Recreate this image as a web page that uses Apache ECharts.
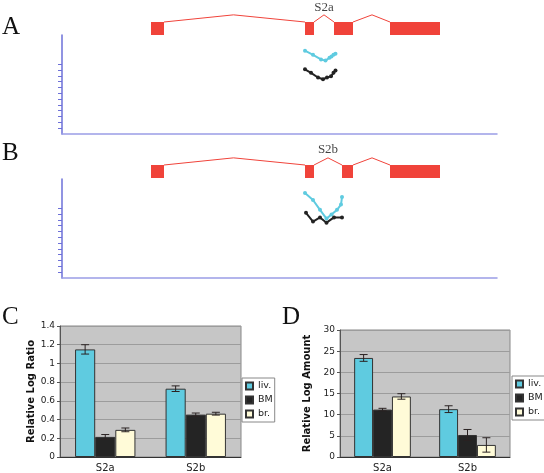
<!DOCTYPE html>
<html><head><meta charset="utf-8">
<script src="https://cdn.jsdelivr.net/npm/echarts@6/dist/echarts.min.js"></script>
<style>html,body{margin:0;padding:0;background:#fff}#c{width:544px;height:473px}</style>
</head><body><div id="c"></div>
<script>
// ---- Panels A / B : gene structure (locus coordinate, arbitrary units) ----
const exonsA = [[89,102],[243,252],[272,291],[328,378]];
const peaksA = [171.5, 262, 310];
const exonsB = [[89,102],[243,252],[280,291],[328,378]];
const peaksB = [171.5, 266, 310];
const exonLabelA = 'S2a';
const exonLabelB = 'S2b';
const topTicks = [1,2,3,4,5,6,7,8,9,10,11,12];

// ---- Panels A / B : expression profiles ----
const cyanAx  = [243, 251, 259, 263.5, 267.5, 269.5, 271.5, 273.5];
const cyanAy  = [14.3, 13.6, 12.8, 12.6, 13.1, 13.3, 13.6, 13.8];
const blackAx = [243, 249, 256, 261, 265, 269, 271.5, 273.5];
const blackAy = [11.1, 10.5, 9.7, 9.4, 9.7, 9.9, 10.5, 10.9];
const cyanBx  = [243, 251, 258, 264.5, 269.5, 275, 279, 280];
const cyanBy  = [14.6, 13.4, 11.7, 10.2, 10.9, 11.7, 12.6, 13.9];
const blackBx = [244, 251, 258, 264.5, 272, 280];
const blackBy = [11.2, 9.7, 10.4, 9.5, 10.4, 10.4];

// ---- Panels C / D ----
const categories = ['S2a', 'S2b'];
const tissues = ['liv.', 'BM', 'br.'];
const ratioVals  = [[1.15, 0.73], [0.215, 0.453], [0.29, 0.463]];
const ratioErr   = [[0.05, 0.03], [0.025, 0.017], [0.02, 0.015]];
const amountVals = [[23.4, 11.3], [11.2, 5.2], [14.3, 2.85]];
const amountErr  = [[0.8, 0.8], [0.3, 1.3], [0.65, 1.7]];
const ratioTicks = {min: 0, max: 1.4, interval: 0.2};
const amountTicks = {min: 0, max: 30, interval: 5};

const RED = '#f0433a';
const CYAN = '#5fcbe0';
const BLACK = '#232323';
const tissueColors = ['#5fcbe0', '#242424', '#fffbd8'];
const AXBLUE = '#6d70d8';

const chart = echarts.init(document.getElementById('c'), null, {renderer: 'canvas'});

const grids = [
  {left: 62, width: 435, top: 2.5, height: 32.5},   // 0 gene A
  {left: 62, width: 435, top: 35, height: 99},      // 1 profile A
  {left: 62, width: 435, top: 145.5, height: 32.5}, // 2 gene B
  {left: 62, width: 435, top: 179, height: 99},     // 3 profile B
  {left: 60, right: 303, top: 326, bottom: 16, show: true, backgroundColor: '#c6c6c6', borderColor: '#888', borderWidth: 1}, // 4 C
  {left: 340, right: 34, top: 330, bottom: 16, show: true, backgroundColor: '#c6c6c6', borderColor: '#888', borderWidth: 1}  // 5 D
];

const hidden = {show: false};
const xAxes = [
  {gridIndex: 0, type: 'value', min: 0, max: 435, show: false},
  {gridIndex: 1, type: 'value', min: 0, max: 435, axisLine: {show: true, lineStyle: {color: '#9a9de6', width: 1.5}}, axisTick: hidden, axisLabel: hidden, splitLine: hidden},
  {gridIndex: 2, type: 'value', min: 0, max: 435, show: false},
  {gridIndex: 3, type: 'value', min: 0, max: 435, axisLine: {show: true, lineStyle: {color: '#9a9de6', width: 1.5}}, axisTick: hidden, axisLabel: hidden, splitLine: hidden},
  {gridIndex: 4, type: 'category', data: categories, axisLine: {lineStyle: {color: '#333'}}, axisTick: {length: 3, lineStyle: {color: '#333'}}, axisLabel: {color: '#222', fontSize: 10, fontFamily: 'DejaVu Sans', margin: 6}},
  {gridIndex: 5, type: 'category', data: categories, axisLine: {lineStyle: {color: '#333'}}, axisTick: {length: 3, lineStyle: {color: '#333'}}, axisLabel: {color: '#222', fontSize: 10, fontFamily: 'DejaVu Sans', margin: 6}}
];
const topY = (gi) => ({gridIndex: gi, type: 'value', min: 0, max: 17,
  axisLine: {show: true, lineStyle: {color: AXBLUE, width: 1.5}},
  axisTick: {show: true, length: 4, inside: false, customValues: topTicks, lineStyle: {color: AXBLUE}},
  axisLabel: hidden, splitLine: hidden});
const barY = (gi, t, name, gap) => ({gridIndex: gi, type: 'value', min: t.min, max: t.max, interval: t.interval,
  name: name, nameLocation: 'middle', nameGap: gap, nameRotate: 90,
  nameTextStyle: {fontFamily: 'DejaVu Sans', fontWeight: 'bold', fontSize: 10, color: '#111'},
  axisLine: {show: true, lineStyle: {color: '#555'}},
  axisTick: {show: true, length: 3, lineStyle: {color: '#555'}},
  axisLabel: {color: '#222', fontSize: 9, fontFamily: 'DejaVu Sans', margin: 5},
  splitLine: {show: true, lineStyle: {color: '#9c9c9c', width: 1}}});
const yAxes = [
  {gridIndex: 0, type: 'value', min: 0, max: 2.5, show: false},
  topY(1),
  {gridIndex: 2, type: 'value', min: 0, max: 2.5, show: false},
  topY(3),
  barY(4, ratioTicks, 'Relative Log Ratio', 23),
  barY(5, amountTicks, 'Relative Log Amount', 28)
];

function exonSeries(exons, ai) {
  return {type: 'custom', xAxisIndex: ai, yAxisIndex: ai, silent: true,
    data: exons, encode: {x: [0, 1]},
    renderItem: (p, api) => {
      const a = api.coord([api.value(0), 1]);
      const b = api.coord([api.value(1), 0]);
      return {type: 'rect', shape: {x: a[0], y: a[1], width: b[0] - a[0], height: b[1] - a[1]}, style: {fill: RED}};
    }};
}
function intronSeries(exons, peaks, ai) {
  const out = [];
  for (let i = 0; i < peaks.length; i++) {
    out.push({type: 'line', xAxisIndex: ai, yAxisIndex: ai, silent: true, symbol: 'none',
      lineStyle: {color: RED, width: 1},
      data: [[exons[i][1], 1], [peaks[i], 1.55], [exons[i + 1][0], 1]]});
  }
  return out;
}
function labelSeries(x, y, text, ai) {
  return {type: 'scatter', xAxisIndex: ai, yAxisIndex: ai, silent: true, symbolSize: 1,
    itemStyle: {color: 'rgba(0,0,0,0)'},
    data: [{name: text, value: [x, y]}],
    label: {show: true, position: 'inside', formatter: '{b}', color: '#111', fontSize: 13, fontFamily: 'Liberation Serif'}};
}
function profile(xs, ys, color, ai) {
  return {type: 'line', xAxisIndex: ai, yAxisIndex: ai, silent: true,
    data: xs.map((x, i) => [x, ys[i]]),
    symbol: 'circle', symbolSize: 4, showSymbol: true,
    lineStyle: {color: color, width: 2}, itemStyle: {color: color}};
}

function barSeries(vals, ai) {
  return tissues.map((t, i) => ({type: 'bar', name: t, xAxisIndex: ai, yAxisIndex: ai,
    data: vals[i], barGap: '0%', barCategoryGap: '33.3%',
    itemStyle: {color: tissueColors[i], borderColor: '#333', borderWidth: 1}}));
}
function errSeries(vals, errs, ai) {
  return tissues.map((t, i) => ({type: 'custom', xAxisIndex: ai, yAxisIndex: ai, silent: true, z: 5,
    data: vals[i].map((v, k) => [k, v, errs[i][k]]), encode: {x: 0, y: 1},
    renderItem: (p, api) => {
      const c = api.value(0), v = api.value(1), e = api.value(2);
      const top = api.coord([c, v + e]);
      const bot = api.coord([c, v - e]);
      const band = api.size([1, 0])[0];
      const bw = band / 4.5;
      const x = top[0] + (i - 1) * bw;
      const hw = 4;
      const st = {stroke: '#2a2222', lineWidth: 1};
      return {type: 'group', children: [
        {type: 'line', shape: {x1: x, y1: top[1], x2: x, y2: bot[1]}, style: st},
        {type: 'line', shape: {x1: x - hw, y1: top[1], x2: x + hw, y2: top[1]}, style: st},
        {type: 'line', shape: {x1: x - hw, y1: bot[1], x2: x + hw, y2: bot[1]}, style: st}
      ]};
    }}));
}

const series = [].concat(
  exonSeries(exonsA, 0), intronSeries(exonsA, peaksA, 0), labelSeries(peaksA[1], 2.1, exonLabelA, 0),
  exonSeries(exonsB, 2), intronSeries(exonsB, peaksB, 2), labelSeries(peaksB[1], 2.15, exonLabelB, 2),
  profile(cyanAx, cyanAy, CYAN, 1), profile(blackAx, blackAy, BLACK, 1),
  profile(cyanBx, cyanBy, CYAN, 3), profile(blackBx, blackBy, BLACK, 3),
  barSeries(ratioVals, 4), errSeries(ratioVals, ratioErr, 4),
  barSeries(amountVals, 5), errSeries(amountVals, amountErr, 5)
);

const legendBase = {orient: 'vertical', data: tissues, icon: 'rect', itemWidth: 7, itemHeight: 7, itemGap: 4,
  borderColor: '#888', borderWidth: 1, padding: [3, 2, 3, 3], selectedMode: false,
  textStyle: {fontFamily: 'DejaVu Sans', fontSize: 9.5, color: '#222'}};

const panelText = (t, x, y) => ({type: 'text', left: x, top: y, silent: true,
  style: {text: t, font: '25px "Liberation Serif"', fill: '#111'}});

chart.setOption({
  animation: false,
  grid: grids, xAxis: xAxes, yAxis: yAxes, series: series,
  legend: [Object.assign({left: 242, top: 378}, legendBase), Object.assign({left: 512, top: 376}, legendBase)],
  graphic: [panelText('A', 2, 15), panelText('B', 2, 141), panelText('C', 2, 305), panelText('D', 282, 305)]
});
</script></body></html>
